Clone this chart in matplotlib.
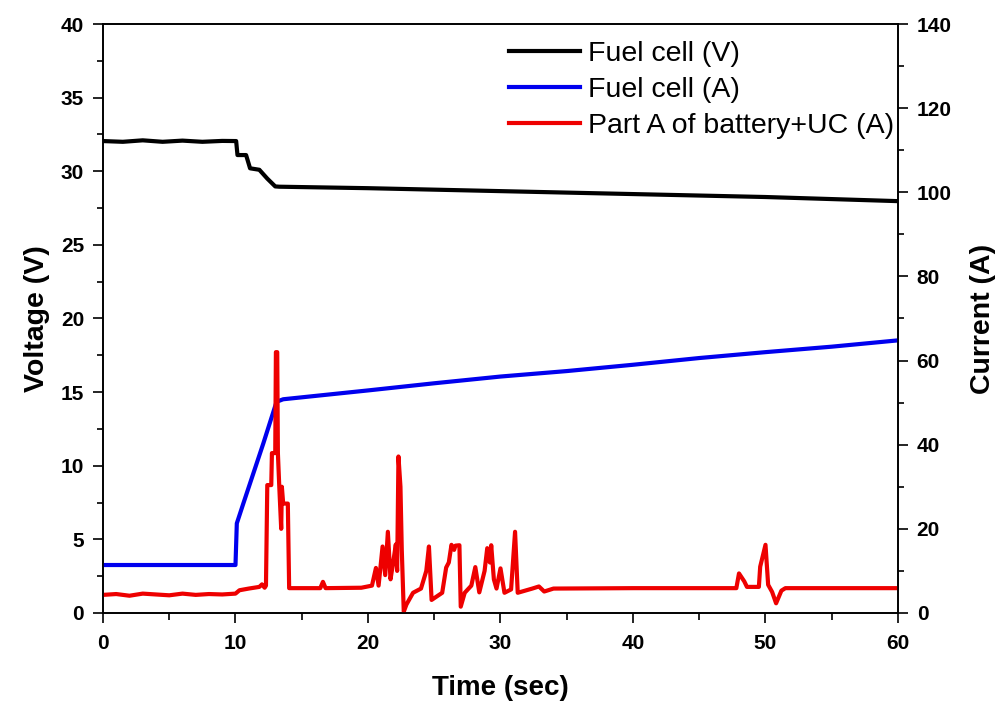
import numpy as np
import matplotlib
matplotlib.use("Agg")
import matplotlib.pyplot as plt
from matplotlib.ticker import MultipleLocator

plt.rcParams['font.family'] = ['Liberation Sans', 'DejaVu Sans']

# fuel cell voltage (V), left axis
t_fc_v = [0, 1.5, 3, 4.5, 6, 7.5, 9, 10.05, 10.15, 10.8, 11.1, 11.8, 12.4, 13.0, 13.3,
          20, 30, 40, 50, 60]
fc_v = [32.05, 32.0, 32.1, 32.0, 32.08, 32.0, 32.06, 32.05, 31.1, 31.1, 30.2, 30.1, 29.5,
        28.97, 28.95, 28.85, 28.65, 28.45, 28.25, 27.97]

# fuel cell current (A), right axis
t_fc_a = [0, 10.0, 10.1, 10.6, 12.1, 13.1, 13.6, 20, 25, 30, 35, 40, 45, 50, 55, 60]
fc_a = [11.4, 11.4, 21.3, 26.1, 40.3, 50.2, 50.8, 52.9, 54.6, 56.2, 57.5, 59.0, 60.6,
        62.0, 63.3, 64.8]

# part A of battery + UC current (A), right axis
t_bat = [0, 1, 2, 3, 4, 5, 6, 7, 8, 9, 10, 10.3, 11, 11.8, 12.0, 12.2, 12.3,
         12.4, 12.7, 12.75, 13.0, 13.05, 13.15, 13.2, 13.3, 13.45, 13.5, 13.6, 13.95,
         14.05, 16.4, 16.6, 16.8, 19.5, 20.3, 20.6, 20.8, 21.1, 21.3, 21.5, 21.7, 21.9,
         22.1, 22.2, 22.3, 22.45, 22.55, 22.7, 22.9, 23.4, 24.0, 24.4, 24.6, 24.8,
         25.6, 25.9, 26.1, 26.3, 26.5, 26.6, 26.9, 27.0, 27.3, 27.8, 28.1, 28.4,
         28.8, 29.0, 29.2, 29.3, 29.5, 29.7, 30.0, 30.3, 30.8, 31.1, 31.3, 32.4,
         32.9, 33.3, 34, 40, 47.8, 48.0, 48.4, 48.6, 49.5, 49.6, 50.0, 50.2, 50.5,
         50.8, 51.2, 51.5, 55, 60]
bat_a = [4.3, 4.5, 4.1, 4.6, 4.4, 4.2, 4.6, 4.3, 4.5, 4.4, 4.6, 5.4, 5.8, 6.2, 6.8, 6.0, 6.5,
         30.4, 30.4, 38.0, 38.0, 62.0, 62.0, 38.0, 30.4, 20.0, 30.0, 26.0, 26.0,
         5.9, 5.9, 7.4, 5.9, 6.0, 6.5, 10.7, 6.5, 15.8, 9.0, 19.3, 8.0, 12.0,
         16.3, 10.0, 37.2, 30.0, 15.0, 0.3, 2.0, 4.8, 5.8, 10.0, 15.8, 3.1,
         4.8, 10.8, 12.0, 16.2, 15.0, 16.0, 16.1, 1.5, 4.8, 6.5, 10.9, 4.9,
         10.0, 15.4, 12.0, 16.1, 8.0, 5.8, 10.6, 4.8, 5.6, 19.3, 4.8, 5.8,
         6.3, 5.1, 5.8, 5.9, 5.9, 9.4, 7.5, 6.2, 6.2, 11.0, 16.2, 6.7, 5.0,
         2.3, 5.3, 5.9, 5.9, 5.9]

fig = plt.figure(figsize=(9.96, 7.04), dpi=100)
ax = fig.add_axes([0.1034, 0.1293, 0.7982, 0.8366])
ax2 = ax.twinx()

l1, = ax.plot(t_fc_v, fc_v, color='black', lw=3.0, label='Fuel cell (V)')
l2, = ax2.plot(t_fc_a, fc_a, color='#0000ee', lw=3.0, label='Fuel cell (A)')
l3, = ax2.plot(t_bat, bat_a, color='#ee0000', lw=3.0, label='Part A of battery+UC (A)')

ax.set_xlim(0, 60)
ax.set_ylim(0, 40)
ax2.set_ylim(0, 140)

ax.xaxis.set_major_locator(MultipleLocator(10))
ax.xaxis.set_minor_locator(MultipleLocator(5))
ax.yaxis.set_major_locator(MultipleLocator(5))
ax.yaxis.set_minor_locator(MultipleLocator(2.5))
ax2.yaxis.set_major_locator(MultipleLocator(20))
ax2.yaxis.set_minor_locator(MultipleLocator(10))

for a in (ax, ax2):
    a.tick_params(which='major', direction='out', length=7.5, width=1.2, labelsize=15, pad=6)
    a.tick_params(which='minor', direction='out', length=4.5, width=1.2)
    for s in a.spines.values():
        s.set_linewidth(1.2)
    for lab in a.get_xticklabels() + a.get_yticklabels():
        lab.set_fontweight('bold')
ax.tick_params(top=False, which='both')
ax.tick_params(axis='x', which='major', length=7, pad=8)
ax.tick_params(axis='x', which='minor', length=5)

ax.set_xlabel('Time (sec)', fontsize=20, fontweight='bold', labelpad=16)
ax.set_ylabel('Voltage (V)', fontsize=20.5, fontweight='bold', labelpad=8)
ax2.set_ylabel('Current (A)', fontsize=20.5, fontweight='bold', labelpad=13)

ax2.legend(handles=[l1, l2, l3], loc='upper right', bbox_to_anchor=(1.0, 0.978),
           frameon=False, fontsize=20.5, handlelength=2.5, handletextpad=0.25,
           labelspacing=0.35, borderaxespad=0, borderpad=0.15)

fig.savefig('out.png', dpi=100)
